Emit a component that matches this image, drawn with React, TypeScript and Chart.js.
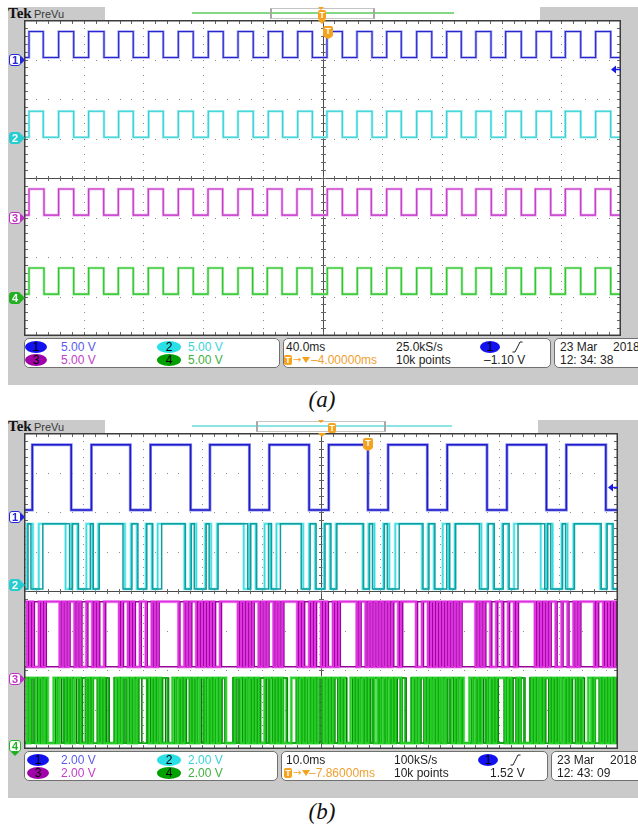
import React, { useEffect, useRef } from "react";
import { Chart, registerables } from "chart.js";
Chart.register(...registerables);

// ================= DATA =================
// Panel (a): 40 ms/div, 400 ms record. Edge times (ms) of the square waves, traces start low.
const edgesA1 = [3.35, 12.9, 23.2, 33.3, 43.3, 53.6, 63.4, 73.2, 83.5, 93.3, 103.4, 113.4, 123.5, 133.5, 143.4, 153.6, 163.7, 173.3, 183.4, 193.2, 203.0, 213.3, 223.1, 233.2, 243.0, 252.8, 263.1, 273.2, 283.2, 293.0, 302.8, 312.9, 322.7, 333.2, 343.2, 353.3, 362.7, 373.0, 383.0, 393.1];
const edgesA4 = [3.35, 13.4, 23.2, 33.3, 43.3, 53.4, 63.2, 73.2, 83.3, 93.3, 103.4, 113.4, 123.3, 133.1, 143.4, 153.2, 163.0, 172.9, 182.9, 193.0, 203.2, 213.3, 223.3, 232.7, 243.0, 252.8, 263.1, 272.9, 283.2, 293.4, 302.8, 313.1, 322.9, 333.2, 342.6, 352.9, 362.7, 373.0, 382.8, 393.1];
const levelsA = [0, 3.3]; // volts low / high
const recordA = 400; // ms

// Panel (b): 10 ms/div, 100 ms record.
const edgesB1 = [1.4, 7.95, 11.35, 17.9, 21.3, 28.05, 31.3, 37.95, 41.3, 48.0, 51.3, 57.9, 61.3, 67.9, 71.25, 77.95, 81.3, 87.95, 91.3, 97.95];
const levelsB = [0, 3.3];
const recordB = 100; // ms
const slotMsB = 0.5; // each character below = 0.5 ms, one string per division
const ch2BLight = ["01100111111111001100", "01100111111111001100", "01100111111111001100", "01100111111111001100", "01100111111111001100", "01100111111111001100", "01100111111111001100", "01100111111111001100", "01100111111111001100", "01100111111111001100"];
const ch2BDark = ["01000011111111101100", "00100111111110001100", "01100011111111001000", "01000111111111101100", "00100011111110001100", "01100111111111001000", "01000011111111001100", "00100111111110001100", "01100011111111101000", "01000111111111001100"];
const ch3BLight = ["10100101111101011010", "01101001111101101001", "10010111111100101101", "01010011111101010110", "10110101111101001011", "01001011111101101010", "10101101111100110101", "01010101111101011001", "10011011111101010110", "01100101111101101010"];
const ch3BDark = ["01011010000010100101", "10010110000010010110", "01101000000011010010", "10101100000010101001", "01001010000010110100", "10110100000010010101", "01010010000011001010", "10101010000010100110", "01100100000010101001", "10011010000010010101"];
const ch4BLight = ["10110101001011010110", "01011010000101101011", "11010100001010110101", "10101011000110101010", "01101010001101010101", "10101101001010101101", "01010110000101101010", "10110101001010110101", "11010010000101011010", "10101101001011010101"];
const ch4BMid = ["01011010000110101101", "10100101001010110100", "01101011000101001011", "01010100001011010101", "10110101000010101011", "01010010000101010110", "10101001001010010101", "01011010000101101010", "00101101001010100101", "01010010000100101010"];
const ch4BDark = ["11010110001101011010", "10110101000110101101", "10101101001101010110", "11011010001010110101", "10101011000110110101", "11010101001011010110", "01101011000110101101", "11010110001101011010", "01101011001011010101", "11010101000110101101"];

// Labels
const voltsA = ["5.00 V", "5.00 V", "5.00 V", "5.00 V"];
const voltsB = ["2.00 V", "2.00 V", "2.00 V", "2.00 V"];
const timeInfoA = ["40.0ms", "25.0kS/s", "–4.00000ms", "10k points", "–1.10 V"];
const timeInfoB = ["10.0ms", "100kS/s", "–7.86000ms", "10k points", "1.52 V"];
const dateA = ["23 Mar", "2018", "12: 34: 38"];
const dateB = ["23 Mar", "2018", "12: 43: 09"];
const captions = ["(a)", "(b)"];

// ================= HELPERS =================
const SANS = '"Liberation Sans", Arial, sans-serif';
const SERIF = '"Liberation Serif", "Times New Roman", serif';
const GRAY = "#cacaca";
const ORANGE = "#f5a21e";

type Pt = { x: number; y: number };
type Trace = { pts: Pt[]; color: string; width: number; order: number };

function fromEdges(edges: number[], tEnd: number, lo: number, hi: number): Pt[] {
  let level = 0;
  const pts: Pt[] = [{ x: 0, y: lo }];
  for (const e of edges) {
    level = 1 - level;
    pts.push({ x: e, y: level ? hi : lo });
  }
  pts.push({ x: tEnd, y: level ? hi : lo });
  return pts;
}

function fromSlots(divs: string[], slot: number, shift: number, tEnd: number, lo: number, hi: number): Pt[] {
  const s = divs.join("");
  let level = s[0] === "1" ? 1 : 0;
  const pts: Pt[] = [{ x: 0, y: level ? hi : lo }];
  for (let k = 1; k < s.length; k++) {
    const l = s[k] === "1" ? 1 : 0;
    if (l !== level) {
      const x = k * slot + shift;
      if (x >= tEnd) break;
      level = l;
      pts.push({ x, y: level ? hi : lo });
    }
  }
  pts.push({ x: tEnd, y: level ? hi : lo });
  return pts;
}

const graticule = {
  id: "graticule",
  beforeDatasetsDraw(chart: any) {
    const { ctx, chartArea: a } = chart;
    const w = a.right - a.left, h = a.bottom - a.top;
    const dx = w / 10, dy = h / 8;
    ctx.save();
    ctx.fillStyle = "#ffffff";
    ctx.fillRect(a.left, a.top, w, h);
    ctx.fillStyle = "#8a8a8a";
    for (let i = 1; i < 10; i++) {
      if (i === 5) continue;
      const x = Math.round(a.left + i * dx);
      for (let j = 1; j < 40; j++) ctx.fillRect(x, Math.round(a.top + (j * dy) / 5), 1, 1);
    }
    for (let k = 1; k < 8; k++) {
      if (k === 4) continue;
      const y = Math.round(a.top + k * dy);
      for (let j = 1; j < 50; j++) ctx.fillRect(Math.round(a.left + (j * dx) / 5), y, 1, 1);
    }
    const cx = Math.round(a.left + 5 * dx), cy = Math.round(a.top + 4 * dy);
    ctx.fillStyle = "#4a4a4a";
    ctx.fillRect(a.left, cy, w, 1);
    ctx.fillRect(cx, a.top, 1, h);
    ctx.fillStyle = "#666";
    for (let j = 1; j < 50; j++) {
      const x = Math.round(a.left + (j * dx) / 5);
      ctx.fillRect(x, cy - 2, 1, 5);
      ctx.fillRect(x, a.top, 1, 4);
      ctx.fillRect(x, a.bottom - 4, 1, 4);
    }
    for (let j = 1; j < 40; j++) {
      const y = Math.round(a.top + (j * dy) / 5);
      ctx.fillRect(cx - 2, y, 5, 1);
      ctx.fillRect(a.left, y, 4, 1);
      ctx.fillRect(a.right - 4, y, 4, 1);
    }
    ctx.restore();
  },
  afterDatasetsDraw(chart: any, _a: any, opts: any) {
    const { ctx, chartArea: a, scales } = chart;
    ctx.save();
    ctx.strokeStyle = "#3c3c3c";
    ctx.lineWidth = 1.5;
    ctx.strokeRect(a.left + 0.75, a.top + 0.75, a.right - a.left - 1.5, a.bottom - a.top - 1.5);
    if (opts && opts.arrowDiv != null) {
      const y = Math.round(scales.y.getPixelForValue(opts.arrowDiv)) + 0.5;
      ctx.fillStyle = "#1a1ae6";
      ctx.strokeStyle = "#1a1ae6";
      ctx.beginPath();
      ctx.moveTo(a.right - 10, y);
      ctx.lineTo(a.right - 5, y - 4);
      ctx.lineTo(a.right - 5, y + 4);
      ctx.closePath();
      ctx.fill();
      ctx.lineWidth = 1.5;
      ctx.beginPath();
      ctx.moveTo(a.right - 6, y);
      ctx.lineTo(a.right, y);
      ctx.stroke();
    }
    ctx.restore();
  },
};

function ScopeChart({ width, height, tEnd, traces, arrowDiv }: { width: number; height: number; tEnd: number; traces: Trace[]; arrowDiv: number }) {
  const ref = useRef<HTMLCanvasElement>(null);
  useEffect(() => {
    const chart = new Chart(ref.current as HTMLCanvasElement, {
      type: "line",
      data: {
        datasets: traces.map((t) => ({
          data: t.pts,
          borderColor: t.color,
          borderWidth: t.width,
          stepped: true,
          pointRadius: 0,
          fill: false,
          order: t.order,
          borderCapStyle: "butt",
          borderJoinStyle: "miter",
        })) as any,
      },
      options: {
        animation: false,
        responsive: false,
        events: [],
        layout: { padding: 0 },
        plugins: { legend: { display: false }, tooltip: { enabled: false }, graticule: { arrowDiv } } as any,
        scales: {
          x: { type: "linear", min: 0, max: tEnd, display: false },
          y: { type: "linear", min: 0, max: 8, display: false },
        },
      },
      plugins: [graticule as any],
    });
    return () => chart.destroy();
  }, []);
  return <canvas ref={ref} width={width} height={height} style={{ display: "block", width, height }} />;
}

function Txt({ x, y, c = "#1e1e1e", s = 12, children }: any) {
  return (
    <div style={{ position: "absolute", left: x, top: y - 7, height: 14, lineHeight: "14px", fontSize: s, fontFamily: SANS, color: c, whiteSpace: "nowrap" }}>
      {children}
    </div>
  );
}
function Pill({ x, y, w, bg, n }: any) {
  return (
    <div style={{ position: "absolute", left: x, top: y - 6, width: w, height: 12, borderRadius: "50%", background: bg, color: "#000", fontSize: 12, lineHeight: "12px", textAlign: "center", fontFamily: SANS }}>
      {n}
    </div>
  );
}
function Box({ x, y, w, h }: any) {
  return <div style={{ position: "absolute", left: x, top: y, width: w, height: h, boxSizing: "border-box", border: "1px solid #707070", borderRadius: 5, background: "#fff" }} />;
}
function TriDown({ x, y, w, h, color }: any) {
  return <div style={{ position: "absolute", left: x, top: y, width: 0, height: 0, borderLeft: `${w / 2}px solid transparent`, borderRight: `${w / 2}px solid transparent`, borderTop: `${h}px solid ${color}` }} />;
}
function OrangeT({ x, y, w = 9, h = 10 }: any) {
  return (
    <div style={{ position: "absolute", left: x, top: y, width: w, height: h, background: ORANGE, borderRadius: 2, color: "#fff", fontSize: 9, fontWeight: "bold", lineHeight: `${h}px`, textAlign: "center", fontFamily: SANS }}>T</div>
  );
}
function Marker({ cy, n, color, filled, down }: any) {
  return (
    <>
      <div style={{ position: "absolute", left: 9, top: cy - 6, width: 12, height: 12, boxSizing: "border-box", border: `1px solid ${color}`, borderRadius: 3, background: filled ? color : "#fff", color: filled ? "#fff" : color, fontSize: 11, fontWeight: "bold", lineHeight: "10px", textAlign: "center", fontFamily: SANS }}>{n}</div>
      {down ? (
        <TriDown x={11} y={cy + 6} w={8} h={4} color={color} />
      ) : (
        <div style={{ position: "absolute", left: 21, top: cy - 4, width: 0, height: 0, borderTop: "4px solid transparent", borderBottom: "4px solid transparent", borderLeft: `4px solid ${color}` }} />
      )}
    </>
  );
}
function EdgeIcon({ x, y }: any) {
  return (
    <svg width={11} height={12} style={{ position: "absolute", left: x, top: y - 6 }}>
      <polyline points="0.5,11 3,11 8,1 10.5,1" fill="none" stroke="#222" strokeWidth={1} />
    </svg>
  );
}

const CH_PILL = ["#1212f0", "#28e0e6", "#a000a8", "#00a000"];
const CH_TXT = ["#5a5af2", "#38d4d8", "#c040c8", "#40b040"];

function Panel(p: any) {
  const dy = p.dy;
  const y1 = p.rowY[0], y2 = p.rowY[1];
  return (
    <>
      <div style={{ position: "absolute", left: 8, top: 7 + dy, width: 630, height: 378, background: GRAY }} />
      <div style={{ position: "absolute", left: 8, top: 6 + dy, fontFamily: SERIF, fontWeight: "bold", fontSize: 15, lineHeight: "15px", color: "#111" }}>Tek</div>
      <div style={{ position: "absolute", left: 34, top: 8 + dy, fontFamily: SANS, fontSize: 11, lineHeight: "12px", color: "#383838" }}>PreVu</div>
      <div style={{ position: "absolute", left: 105, top: 7 + dy, width: p.rec.w, height: 13, background: "#fff" }} />
      <div style={{ position: "absolute", left: p.rec.lineL, top: p.rec.lineY, width: p.rec.lineW, height: 2, background: p.rec.color }} />
      <div style={{ position: "absolute", left: p.rec.brL, top: 8 + dy, width: p.rec.brW, height: 11, boxSizing: "border-box", border: "1px solid #c4c4c4", borderLeft: "2px solid #a8a8a8", borderRight: "2px solid #a8a8a8" }} />
      <div style={{ position: "absolute", left: p.plot.l, top: p.plot.t, width: p.plot.w, height: p.plot.h, background: "#fff" }}>
        <ScopeChart width={p.plot.w} height={p.plot.h} tEnd={p.tEnd} traces={p.traces} arrowDiv={p.arrowDiv} />
      </div>
      {p.markers.map((m: any) => (
        <Marker key={m.n} {...m} />
      ))}
      {/* trigger position markers */}
      <TriDown x={318} y={p.topT.triY} w={7} h={3} color={ORANGE} />
      <OrangeT x={p.topT.boxX} y={p.topT.boxY} w={8} h={10} />
      <TriDown x={318} y={p.plot.t} w={8} h={4} color={ORANGE} />
      <OrangeT x={p.tPlot.x} y={p.tPlot.y} w={10} h={11} />
      <TriDown x={p.tPlot.x + 1} y={p.tPlot.y + 11} w={8} h={2} color={ORANGE} />
      {/* info bar */}
      <Box x={24} y={p.boxY} w={p.box1W} h={30} />
      <Box x={p.box2X} y={p.boxY} w={p.box2W} h={30} />
      <Box x={p.box3X} y={p.boxY} w={100} h={30} />
      <Pill x={p.pillX} y={y1} w={22} bg={CH_PILL[0]} n="1" />
      <Txt x={61} y={y1} c={CH_TXT[0]}>{p.volts[0]}</Txt>
      <Pill x={157} y={y1} w={24} bg={CH_PILL[1]} n="2" />
      <Txt x={188} y={y1} c={CH_TXT[1]}>{p.volts[1]}</Txt>
      <Pill x={p.pillX} y={y2} w={22} bg={CH_PILL[2]} n="3" />
      <Txt x={61} y={y2} c={CH_TXT[2]}>{p.volts[2]}</Txt>
      <Pill x={157} y={y2} w={24} bg={CH_PILL[3]} n="4" />
      <Txt x={188} y={y2} c={CH_TXT[3]}>{p.volts[3]}</Txt>

      <Txt x={286} y={y1}>{p.info[0]}</Txt>
      <Txt x={p.tx.rate} y={y1}>{p.info[1]}</Txt>
      <Pill x={p.tx.pill} y={y1} w={20} bg={CH_PILL[0]} n="1" />
      <EdgeIcon x={p.tx.edge} y={y1} />
      <OrangeT x={284} y={y2 - 5} w={8} h={10} />
      <div style={{ position: "absolute", left: 293, top: y2 - 6, fontSize: 10, lineHeight: "12px", color: ORANGE, fontFamily: '"DejaVu Sans", sans-serif' }}>→</div>
      <TriDown x={302} y={y2 - 3} w={8} h={6} color={ORANGE} />
      <Txt x={p.tx.delay} y={y2} c="#f0a030">{p.info[2]}</Txt>
      <Txt x={p.tx.rate} y={y2}>{p.info[3]}</Txt>
      <Txt x={p.tx.trig} y={y2}>{p.info[4]}</Txt>

      <Txt x={p.box3X + 6} y={y1}>{p.date[0]}</Txt>
      <Txt x={p.box3X + 59} y={y1}>{p.date[1]}</Txt>
      <Txt x={p.box3X + 6} y={y2}>{p.date[2]}</Txt>

      <div style={{ position: "absolute", left: 0, top: p.capY, width: 644, textAlign: "center", fontFamily: SERIF, fontStyle: "italic", fontSize: 23, lineHeight: "26px", color: "#111" }}>{p.caption}</div>
    </>
  );
}

// ================= BUILD TRACES =================
function buildA(): Trace[] {
  const vdiv = 5;
  const chans = [
    { e: edgesA1, off: 7.05, c: "#2626cc", h: "#a6a6f2" },
    { e: edgesA1, off: 5.03, c: "#2ccfd2", h: "#a8eef0" },
    { e: edgesA4, off: 3.06, c: "#c232c6", h: "#eaa6ec" },
    { e: edgesA4, off: 1.06, c: "#22c422", h: "#a2e6a2" },
  ];
  const out: Trace[] = [];
  chans.forEach((ch) => {
    const lo = ch.off + levelsA[0] / vdiv, hi = ch.off + levelsA[1] / vdiv;
    const pts = fromEdges(ch.e, recordA, lo, hi);
    out.push({ pts, color: ch.h, width: 2.6, order: 5 });
    out.push({ pts, color: ch.c, width: 1.1, order: 1 });
  });
  return out;
}

function buildB(): Trace[] {
  const vdiv = 2;
  const lvl = (off: number) => [off + levelsB[0] / vdiv, off + levelsB[1] / vdiv];
  const out: Trace[] = [];
  const [l1, h1] = lvl(6.05);
  const p1 = fromEdges(edgesB1, recordB, l1, h1);
  out.push({ pts: p1, color: "#9090f0", width: 3, order: 5 });
  out.push({ pts: p1, color: "#1c1cc8", width: 1.5, order: 1 });
  const [l2, h2] = lvl(4.05);
  const c2L = fromSlots(ch2BLight, slotMsB, 0, recordB, l2, h2);
  out.push({ pts: c2L, color: "#b2f2f4", width: 3, order: 5 });
  out.push({ pts: fromSlots(ch2BDark, slotMsB, 0.17, recordB, l2, h2), color: "#119c9e", width: 1.5, order: 0 });
  out.push({ pts: c2L, color: "#30dcdf", width: 1.3, order: 1 });
  const [l3, h3] = lvl(2.08);
  const c3L = fromSlots(ch3BLight, slotMsB, 0, recordB, l3, h3);
  out.push({ pts: c3L, color: "#f0a6f0", width: 3.2, order: 5 });
  out.push({ pts: fromSlots(ch3BDark, slotMsB, 0.25, recordB, l3, h3), color: "#9c009e", width: 1.5, order: 2 });
  out.push({ pts: c3L, color: "#e030e2", width: 1.8, order: 1 });
  const [l4, h4] = lvl(0.15);
  const c4L = fromSlots(ch4BLight, slotMsB, 0, recordB, l4, h4);
  out.push({ pts: c4L, color: "#8ee48e", width: 3.2, order: 5 });
  out.push({ pts: fromSlots(ch4BDark, slotMsB, 0.34, recordB, l4, h4), color: "#007a00", width: 1.5, order: 3 });
  out.push({ pts: fromSlots(ch4BMid, slotMsB, 0.17, recordB, l4, h4), color: "#14ac14", width: 1.8, order: 2 });
  out.push({ pts: c4L, color: "#26d026", width: 1.8, order: 1 });
  return out;
}

export default function App() {
  const tracesA = buildA();
  const tracesB = buildB();
  return (
    <div style={{ position: "fixed", left: 0, top: 0, width: 638, height: 827, overflow: "hidden", background: "#fff" }}>
      <Panel
        dy={0}
        plot={{ l: 24, t: 20, w: 597, h: 316 }}
        rec={{ w: 435, lineL: 192, lineW: 262, lineY: 12, color: "#84d884", brL: 270, brW: 105 }}
        tEnd={recordA}
        traces={tracesA}
        arrowDiv={6.76}
        markers={[
          { cy: 60, n: "1", color: "#2626d8", filled: false },
          { cy: 138, n: "2", color: "#26cdd0", filled: true },
          { cy: 218, n: "3", color: "#c030c4", filled: false },
          { cy: 298, n: "4", color: "#22b022", filled: true },
        ]}
        topT={{ triY: 7, boxX: 318, boxY: 10 }}
        tPlot={{ x: 323, y: 26 }}
        boxY={338}
        box1W={256}
        box2X={283}
        box2W={268}
        box3X={554}
        rowY={[346.5, 360]}
        pillX={25}
        volts={voltsA}
        info={timeInfoA}
        tx={{ rate: 396, pill: 480, edge: 512, delay: 311, trig: 484 }}
        date={dateA}
        capY={387}
        caption={captions[0]}
      />
      <Panel
        dy={413}
        plot={{ l: 24, t: 433, w: 594, h: 316 }}
        rec={{ w: 433, lineL: 192, lineW: 260, lineY: 425, color: "#8ae6e6", brL: 256, brW: 130 }}
        tEnd={recordB}
        traces={tracesB}
        arrowDiv={6.64}
        markers={[
          { cy: 517, n: "1", color: "#2626d8", filled: false },
          { cy: 585, n: "2", color: "#26cdd0", filled: true },
          { cy: 679, n: "3", color: "#c030c4", filled: false },
          { cy: 746, n: "4", color: "#22b022", filled: false, down: true },
        ]}
        topT={{ triY: 420, boxX: 328, boxY: 423 }}
        tPlot={{ x: 363, y: 438 }}
        boxY={751}
        box1W={254}
        box2X={281}
        box2W={267}
        box3X={551}
        rowY={[759.5, 773]}
        pillX={27}
        volts={voltsB}
        info={timeInfoB}
        tx={{ rate: 394, pill: 478, edge: 510, delay: 309, trig: 490 }}
        date={dateB}
        capY={799}
        caption={captions[1]}
      />
    </div>
  );
}
